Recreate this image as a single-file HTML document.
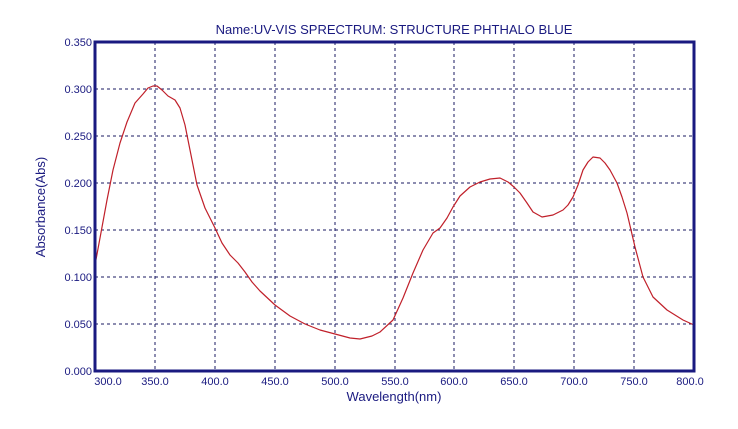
<!DOCTYPE html>
<html><head><style>
html,body{margin:0;padding:0;background:#fff;}
svg{display:block;font-family:"Liberation Sans",sans-serif;}
</style></head><body>
<svg width="738" height="429" viewBox="0 0 738 429">
<rect width="738" height="429" fill="#fff"/>
<text x="394" y="34" font-size="13" fill="#1a1a80" text-anchor="middle">Name:UV-VIS SPRECTRUM: STRUCTURE PHTHALO BLUE</text>
<g stroke="#1a1a60" stroke-width="1" stroke-dasharray="3,3">
<line x1="155" y1="42" x2="155" y2="371"/><line x1="215" y1="42" x2="215" y2="371"/>
<line x1="275" y1="42" x2="275" y2="371"/><line x1="335" y1="42" x2="335" y2="371"/>
<line x1="395" y1="42" x2="395" y2="371"/><line x1="454" y1="42" x2="454" y2="371"/>
<line x1="514" y1="42" x2="514" y2="371"/><line x1="574" y1="42" x2="574" y2="371"/>
<line x1="634" y1="42" x2="634" y2="371"/>
<line x1="95" y1="89" x2="694" y2="89"/><line x1="95" y1="136" x2="694" y2="136"/>
<line x1="95" y1="183" x2="694" y2="183"/><line x1="95" y1="230" x2="694" y2="230"/>
<line x1="95" y1="277" x2="694" y2="277"/><line x1="95" y1="324" x2="694" y2="324"/>
</g>
<polyline fill="none" stroke="#c0202a" stroke-width="1.2" stroke-linejoin="round" points="95,265 100,238 107,200 113,170 120,143 127,122 135,103 143,94 148,88 153,86 157,86 162,90 168,96 175,100 180,108 185,125 190,150 197,185 205,208 215,228 222,243 230,255 238,263 245,272 252,282 260,291 275,305 290,316 305,324 320,330 335,334 350,338 360,339 372,336 380,332 393,320 403,298 413,273 423,250 433,233 440,228 447,218 453,207 460,196 470,187 480,182 490,179 500,178 508,182 514,187 520,193 527,203 533,212 542,217 553,215 563,210 568,205 573,197 578,185 583,170 588,162 593,157 600,158 605,163 610,170 617,183 622,197 627,213 635,247 643,277 653,297 667,310 683,320 694,325"/>
<rect x="95" y="42" width="599" height="329" fill="none" stroke="#1a1a80" stroke-width="3"/>
<g font-size="11" fill="#1a1a80" text-anchor="end">
<text x="92" y="46">0.350</text><text x="92" y="93">0.300</text><text x="92" y="140">0.250</text>
<text x="92" y="187">0.200</text><text x="92" y="234">0.150</text><text x="92" y="281">0.100</text>
<text x="92" y="328">0.050</text><text x="92" y="375">0.000</text>
</g>
<g font-size="11" fill="#1a1a80" text-anchor="middle">
<text x="108" y="385">300.0</text><text x="155" y="385">350.0</text><text x="215" y="385">400.0</text>
<text x="275" y="385">450.0</text><text x="335" y="385">500.0</text><text x="395" y="385">550.0</text>
<text x="454" y="385">600.0</text><text x="514" y="385">650.0</text><text x="574" y="385">700.0</text>
<text x="634" y="385">750.0</text><text x="690" y="385">800.0</text>
</g>
<text x="394" y="401" font-size="13" fill="#1a1a80" text-anchor="middle">Wavelength(nm)</text>
<text transform="translate(45,207) rotate(-90)" font-size="13" fill="#1a1a80" text-anchor="middle">Absorbance(Abs)</text>
</svg>
</body></html>
